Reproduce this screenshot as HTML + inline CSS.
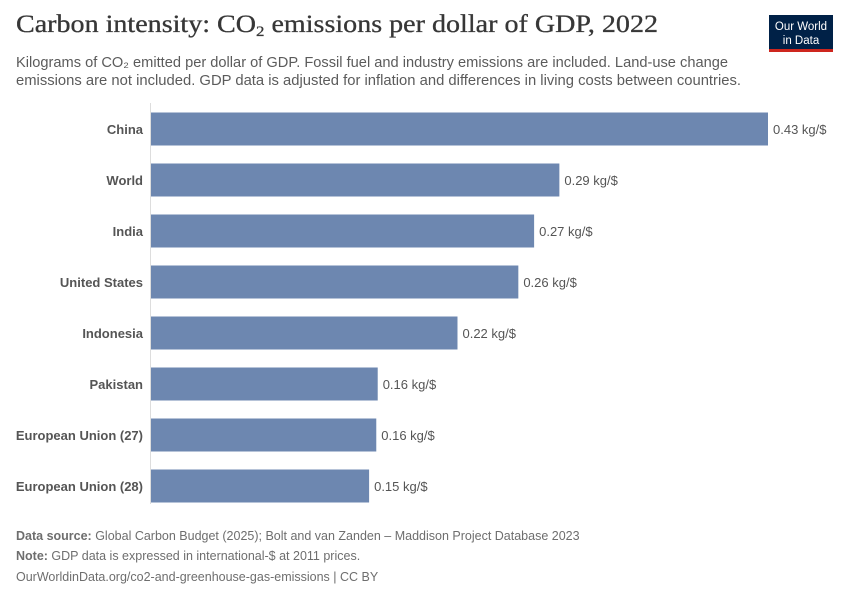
<!DOCTYPE html>
<html><head><meta charset="utf-8"><style>
body{margin:0;background:#fff;font-family:"Liberation Sans",sans-serif}
</style></head><body>
<svg id="c" width="850" height="600" xmlns="http://www.w3.org/2000/svg">
<text x="16" y="32" font-family="Liberation Serif,serif" font-size="25" fill="#373737" stroke="#373737" stroke-width="0.3" textLength="642" lengthAdjust="spacingAndGlyphs">Carbon intensity: CO<tspan font-size="15" dy="4">2</tspan><tspan dy="-4"> emissions per dollar of GDP, 2022</tspan></text>
<text x="16" y="67" font-size="14.5" fill="#5b5b5b" textLength="712" lengthAdjust="spacingAndGlyphs">Kilograms of CO₂ emitted per dollar of GDP. Fossil fuel and industry emissions are included. Land-use change</text>
<text x="16" y="85" font-size="14.5" fill="#5b5b5b" textLength="725" lengthAdjust="spacingAndGlyphs">emissions are not included. GDP data is adjusted for inflation and differences in living costs between countries.</text>
<g>
<rect x="769" y="15" width="64" height="35" fill="#002147"/>
<rect x="769" y="49" width="64" height="3" fill="#ce261e"/>
<text x="801" y="30" font-size="11.5" fill="#fff" text-anchor="middle">Our World</text>
<text x="801" y="44" font-size="11.5" fill="#fff" text-anchor="middle">in Data</text>
</g>
<line x1="150.5" y1="103" x2="150.5" y2="504" stroke="#ddd"/>
<g id="bars"></g>
<text x="16" y="540" font-size="12.5" fill="#6e6e6e"><tspan font-weight="bold">Data source:</tspan> Global Carbon Budget (2025); Bolt and van Zanden – Maddison Project Database 2023</text>
<text x="16" y="560" font-size="12.5" fill="#6e6e6e"><tspan font-weight="bold">Note:</tspan> GDP data is expressed in international-$ at 2011 prices.</text>
<text x="16" y="581" font-size="12.5" fill="#6e6e6e">OurWorldinData.org/co2-and-greenhouse-gas-emissions | CC BY</text>
</svg>
<script>
const categories=["China","World","India","United States","Indonesia","Pakistan","European Union (27)","European Union (28)"];
const values=[0.43,0.2846,0.267,0.256,0.2136,0.158,0.157,0.152];
const labels=["0.43","0.29","0.27","0.26","0.22","0.16","0.16","0.15"];
const x0=151,xScale=v=>x0+v*(768-151)/0.43;
const yCenter=i=>129+i*51;
const g=document.getElementById('bars');
const NS='http://www.w3.org/2000/svg';
categories.forEach((c,i)=>{
  const r=document.createElementNS(NS,'rect');
  
  
  r.setAttribute('x',x0);r.setAttribute('y',yCenter(i)-16.5);
  r.setAttribute('width',xScale(values[i])-x0);r.setAttribute('height',33);
  r.setAttribute('fill','#6d87b0');g.appendChild(r);
  const l=document.createElementNS(NS,'text');
  
  
  l.setAttribute('x',143);l.setAttribute('y',yCenter(i)+5);
  l.setAttribute('text-anchor','end');l.setAttribute('font-size','13');
  l.setAttribute('font-weight','bold');l.setAttribute('fill','#555');
  l.textContent=c;g.appendChild(l);
  const v=document.createElementNS(NS,'text');
  
  
  v.setAttribute('x',xScale(values[i])+5);v.setAttribute('y',yCenter(i)+5);
  v.setAttribute('font-size','13');v.setAttribute('fill','#555');
  v.textContent=labels[i]+' kg/$';g.appendChild(v);
});
</script>
</body></html>
